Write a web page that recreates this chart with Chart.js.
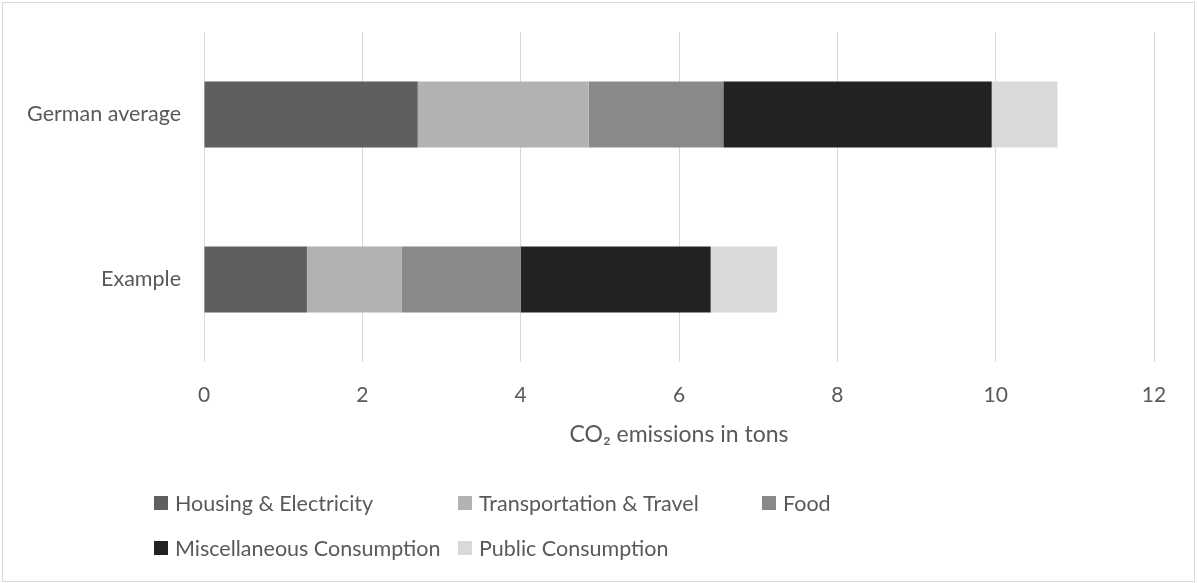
<!DOCTYPE html>
<html>
<head>
<meta charset="utf-8">
<title>CO2 emissions per person</title>
<script src="https://cdn.jsdelivr.net/npm/chart.js@4/dist/chart.umd.min.js"></script>
<style>
  html, body { margin: 0; padding: 0; background: #ffffff; }
  canvas { display: block; }
</style>
</head>
<body>
<canvas id="chart" width="1197" height="583"></canvas>
<script>
// Annual CO2 emissions per person, in tons, split by consumption area
const categories = ['German average', 'Example'];
const housing = [2.70, 1.30];
const transport = [2.16, 1.20];
const food = [1.70, 1.50];
const miscellaneous = [3.39, 2.40];
const publicConsumption = [0.83, 0.84];

const seriesLabels = [
  'Housing & Electricity',
  'Transportation & Travel',
  'Food',
  'Miscellaneous Consumption',
  'Public Consumption'
];
const seriesColors = ['#5f5f5f', '#b2b2b2', '#898989', '#222222', '#d9d9d9'];

const axisMax = 12;
const axisStep = 2;
const axisTitle = 'CO\u2082 emissions in tons';

const FONT = 'Lato, "Open Sans", sans-serif';
const TEXT_COLOR = '#595959';
const GRID_COLOR = '#d9d9d9';

// White background and thin frame around the whole chart
const framePlugin = {
  id: 'frame',
  beforeDraw(chart) {
    const ctx = chart.ctx;
    ctx.save();
    ctx.fillStyle = '#ffffff';
    ctx.fillRect(0, 0, chart.width, chart.height);
    ctx.strokeStyle = GRID_COLOR;
    ctx.lineWidth = 1;
    ctx.strokeRect(2.5, 2.5, chart.width - 5, chart.height - 4);
    ctx.restore();
  }
};

// Legend laid out in fixed-width columns below the axis
const gridLegendPlugin = {
  id: 'gridLegend',
  afterDraw(chart, args, opts) {
    const ctx = chart.ctx;
    ctx.save();
    ctx.font = `${opts.fontSize}px ${FONT}`;
    ctx.textBaseline = 'middle';
    ctx.textAlign = 'left';
    chart.data.datasets.forEach((ds, i) => {
      const col = i % opts.columns;
      const row = Math.floor(i / opts.columns);
      const x = opts.left + col * opts.colWidth;
      const y = opts.top + row * opts.rowHeight;
      ctx.fillStyle = ds.backgroundColor;
      ctx.fillRect(x, Math.round(y - opts.box / 2), opts.box, opts.box);
      ctx.fillStyle = TEXT_COLOR;
      ctx.fillText(ds.label, x + opts.box + opts.gap, y + 1);
    });
    ctx.restore();
  }
};

const seriesValues = [housing, transport, food, miscellaneous, publicConsumption];

new Chart(document.getElementById('chart'), {
  type: 'bar',
  data: {
    labels: categories,
    datasets: seriesValues.map((values, i) => ({
      label: seriesLabels[i],
      data: values,
      backgroundColor: seriesColors[i],
      borderWidth: 0,
      categoryPercentage: 1,
      barPercentage: 0.4
    }))
  },
  options: {
    indexAxis: 'y',
    responsive: false,
    animation: false,
    layout: { padding: { top: 32, right: 43, bottom: 121, left: 0 } },
    plugins: {
      legend: { display: false },
      tooltip: { enabled: false },
      gridLegend: {
        columns: 3, left: 154, colWidth: 304, top: 503, rowHeight: 45,
        box: 14, gap: 7, fontSize: 21.5
      }
    },
    scales: {
      x: {
        stacked: true,
        min: 0,
        max: axisMax,
        ticks: {
          stepSize: axisStep,
          padding: 21,
          color: TEXT_COLOR,
          font: { family: FONT, size: 21 }
        },
        grid: { color: GRID_COLOR, lineWidth: 1, drawTicks: false },
        border: { display: false },
        title: {
          display: true,
          text: axisTitle,
          color: TEXT_COLOR,
          font: { family: FONT, size: 23 },
          padding: { top: 0, bottom: 14 }
        },
        afterFit(scale) { scale.height = 100; }
      },
      y: {
        stacked: true,
        ticks: {
          padding: 23,
          color: TEXT_COLOR,
          font: { family: FONT, size: 21.5 }
        },
        grid: { display: false, drawTicks: false },
        border: { display: false },
        afterFit(scale) {
          scale.width = 204;
          scale.paddingTop = 0;
          scale.paddingBottom = 0;
        }
      }
    }
  },
  plugins: [framePlugin, gridLegendPlugin]
});
</script>
</body>
</html>
